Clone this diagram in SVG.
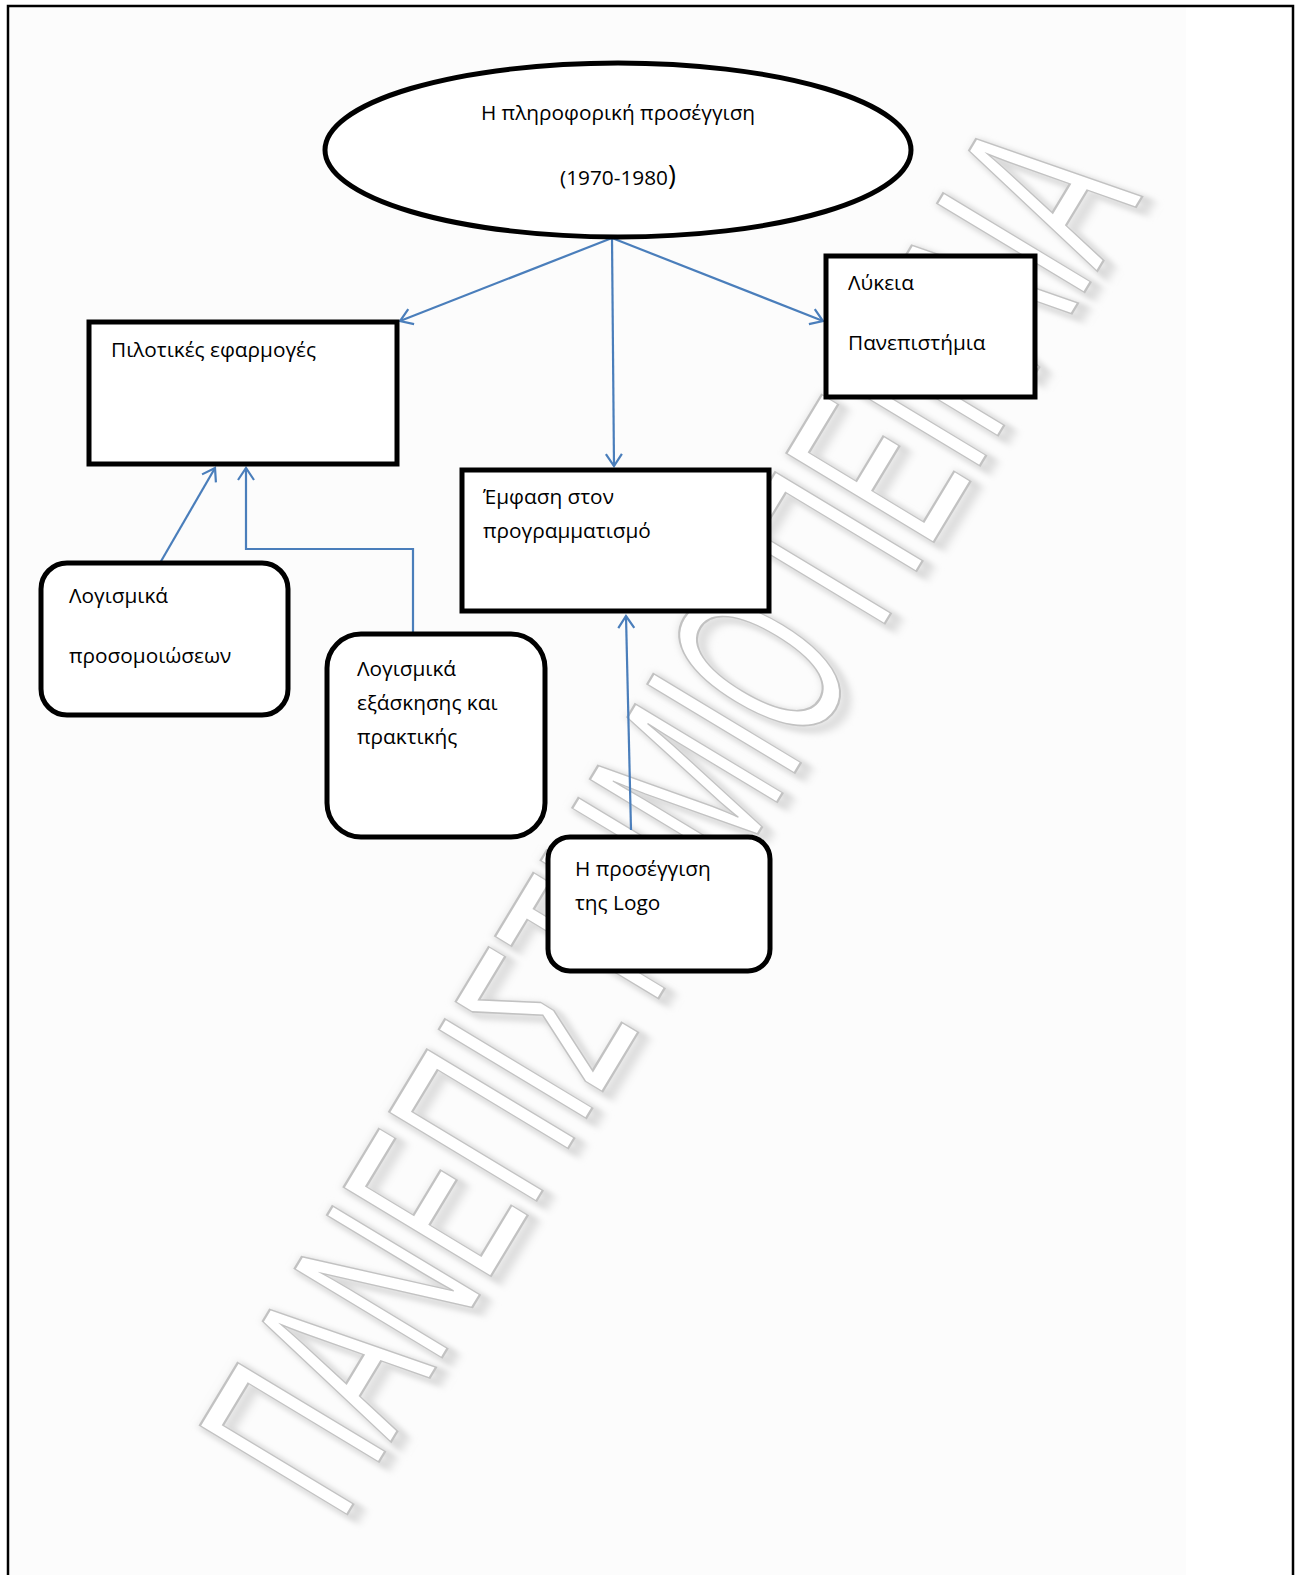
<svg xmlns="http://www.w3.org/2000/svg" width="1299" height="1575" viewBox="0 0 1299 1575">
<style>
.node{fill:#ffffff;stroke:#000000;stroke-width:5}
.lbl{font-family:"Open Sans","Noto Sans","Liberation Sans",sans-serif;font-size:20.8px;fill:#000000}
.conn{fill:none;stroke:#4a7ebb;stroke-width:2.2}
.wm{font-family:"Liberation Sans","DejaVu Sans",sans-serif;font-size:250px;fill:#ffffff;stroke:#c2c2c2;stroke-width:1.8}
.wmshadow{font-family:"Liberation Sans","DejaVu Sans",sans-serif;font-size:250px;fill:none;stroke:#d9d9d9;stroke-width:9}
</style>
<defs>
<marker id="arr" markerUnits="userSpaceOnUse" markerWidth="30" markerHeight="30" viewBox="-15 -15 30 30" refX="0" refY="0" orient="auto">
<path d="M-12,-8 L0,0 L-12,8" fill="none" stroke="#4a7ebb" stroke-width="2.2"/>
</marker>
<filter id="blur" x="-10%" y="-10%" width="120%" height="120%">
<feGaussianBlur stdDeviation="5"/>
</filter>
</defs>
<rect x="0" y="0" width="1299" height="1575" fill="#ffffff"/>
<rect x="8" y="6" width="1178" height="1580" fill="#fcfcfc"/>
<g id="watermark">
<text class="wmshadow" x="0" y="0" text-anchor="middle" vector-effect="non-scaling-stroke" filter="url(#blur)" transform="translate(748,864) rotate(-58.9) scale(0.527,1)">ΠΑΝΕΠΙΣΤΗΜΙΟ ΠΕΙΡΑΙΑ</text>
<text class="wm" x="0" y="0" text-anchor="middle" vector-effect="non-scaling-stroke" transform="translate(742,860) rotate(-58.9) scale(0.527,1)">ΠΑΝΕΠΙΣΤΗΜΙΟ ΠΕΙΡΑΙΑ</text>
</g>
<rect id="page-border" x="8" y="6" width="1285" height="1600" fill="none" stroke="#000000" stroke-width="2.5"/>
<g id="connectors">
<line class="conn" x1="612" y1="238" x2="400" y2="321" marker-end="url(#arr)"/>
<line class="conn" x1="612" y1="238" x2="614" y2="466" marker-end="url(#arr)"/>
<line class="conn" x1="612" y1="238" x2="823" y2="321" marker-end="url(#arr)"/>
<line class="conn" x1="160" y1="563" x2="215" y2="468" marker-end="url(#arr)"/>
<polyline class="conn" points="413,634 413,549 246,549 246,468" marker-end="url(#arr)"/>
<line class="conn" x1="631" y1="830" x2="626" y2="616" marker-end="url(#arr)"/>
</g>
<g id="node-root">
<ellipse class="node" cx="618" cy="150" rx="293" ry="87"/>
<text class="lbl" x="618" y="120" text-anchor="middle">Η πληροφορική προσέγγιση</text>
<text class="lbl" x="618" y="185" text-anchor="middle">(1970-1980<tspan font-size="27px">)</tspan></text>
</g>
<g id="node-pilot">
<rect class="node" x="89" y="322" width="308" height="142"/>
<text class="lbl" x="111" y="357">Πιλοτικές εφαρμογές</text>
</g>
<g id="node-lykeia">
<rect class="node" x="826" y="256" width="209" height="141"/>
<text class="lbl" x="848" y="290">Λύκεια</text>
<text class="lbl" x="848" y="350">Πανεπιστήμια</text>
</g>
<g id="node-emfasi">
<rect class="node" x="462" y="470" width="307" height="141"/>
<text class="lbl" x="483" y="504">Έμφαση στον</text>
<text class="lbl" x="483" y="538">προγραμματισμό</text>
</g>
<g id="node-prosomoioseon">
<rect class="node" x="41" y="563" width="247" height="152" rx="26" ry="26"/>
<text class="lbl" x="69" y="603">Λογισμικά</text>
<text class="lbl" x="69" y="663">προσομοιώσεων</text>
</g>
<g id="node-exaskisis">
<rect class="node" x="327" y="634" width="218" height="203" rx="34" ry="34"/>
<text class="lbl" x="357" y="676">Λογισμικά</text>
<text class="lbl" x="357" y="710">εξάσκησης και</text>
<text class="lbl" x="357" y="744">πρακτικής</text>
</g>
<g id="node-logo">
<rect class="node" x="548" y="837" width="222" height="134" rx="22" ry="22"/>
<text class="lbl" x="575" y="876">Η προσέγγιση</text>
<text class="lbl" x="575" y="910">της Logo</text>
</g>
</svg>
